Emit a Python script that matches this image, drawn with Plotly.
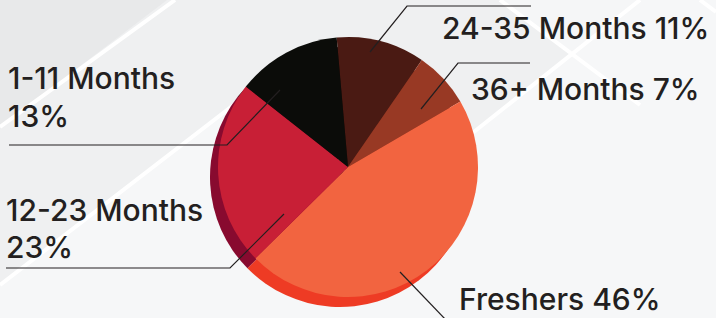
import plotly.graph_objects as go

W, H = 716, 318

# ---- data ----
categories = ["24-35 Months", "36+ Months", "Freshers", "12-23 Months", "1-11 Months"]
values = [11, 7, 46, 23, 13]
label_lines = [
    ["24-35 Months 11%"],
    ["36+ Months 7%"],
    ["Freshers 46%"],
    ["12-23 Months", "23%"],
    ["1-11 Months", "13%"],
]
top_colors = ["#4A1A13", "#983924", "#F26440", "#C81F36", "#0B0C09"]
rim_colors = ["#2E0F0A", "#6E2516", "#EE3B24", "#880A2F", "#3A0A18"]


def px(x, y):
    """pixel (from top-left) -> paper coords"""
    return x / W, 1 - y / H


fig = go.Figure()

# shadow / rim pie (offset down-left)
cx_s, cy_s, r = 340, 177, 130
fig.add_trace(go.Pie(
    labels=categories, values=values, sort=False, direction="clockwise",
    rotation=-5, textinfo="none", hoverinfo="skip", showlegend=False,
    marker=dict(colors=rim_colors, line=dict(width=0)),
    domain=dict(x=[(cx_s - r) / W, (cx_s + r) / W], y=[1 - (cy_s + r) / H, 1 - (cy_s - r) / H]),
))

# main pie
cx, cy = 348, 167
fig.add_trace(go.Pie(
    labels=categories, values=values, sort=False, direction="clockwise",
    rotation=-5, textinfo="none", hoverinfo="label+percent", showlegend=False,
    marker=dict(colors=top_colors, line=dict(width=0)),
    domain=dict(x=[(cx - r) / W, (cx + r) / W], y=[1 - (cy + r) / H, 1 - (cy - r) / H]),
))

shapes = []
# background decorative diagonal bands
bg_polys = [
    ([(0, 0), (167, 0), (0, 127)], "#E8E9EA"),
    ([(500, 0), (640, 0), (570, 53)], "#F5F6F7"),
    ([(0, 285), (240, 100), (350, 100), (470, 135), (640, 0), (716, 0), (716, 318), (0, 318)], "#F6F7F8"),
]
for pts, col in bg_polys:
    path = "M " + " L ".join(f"{px(x, y)[0]},{px(x, y)[1]}" for x, y in pts) + " Z"
    shapes.append(dict(type="path", path=path, xref="paper", yref="paper",
                       fillcolor=col, line=dict(width=0), layer="below"))

white_lines = [
    ((0, 127), (175, 0)),
    ((0, 285), (240, 100)),
    ((500, 0), (640, 105)),
    ((640, 0), (470, 135)),
    ((700, 0), (716, 12)),
]
for (x0, y0), (x1, y1) in white_lines:
    a, b = px(x0, y0), px(x1, y1)
    shapes.append(dict(type="line", xref="paper", yref="paper", x0=a[0], y0=a[1], x1=b[0], y1=b[1],
                       line=dict(color="white", width=4), layer="below"))

# leader lines
leaders = [
    [(531, 6), (407, 6), (370, 52)],
    [(530, 63), (458, 63), (421, 109)],
    [(400, 272), (446, 320)],
    [(6, 268), (230, 268), (284, 214)],
    [(9, 145), (227, 145), (280, 90)],
]
for pts in leaders:
    path = "M " + " L ".join(f"{px(x, y)[0]},{px(x, y)[1]}" for x, y in pts)
    shapes.append(dict(type="path", path=path, xref="paper", yref="paper",
                       line=dict(color="#231F20", width=1.2)))

# label positions (left x, cap-middle y per line)
label_pos = [
    [(440, 28)],
    [(469, 89)],
    [(457, 299)],
    [(4, 210), (4, 247)],
    [(6, 78), (6, 116)],
]
annotations = []
for lines, poss in zip(label_lines, label_pos):
    for t, (x, y) in zip(lines, poss):
        a = px(x, y)
        annotations.append(dict(text=t, x=a[0], y=a[1], xref="paper", yref="paper",
                                xanchor="left", yanchor="middle", showarrow=False,
                                font=dict(family="Inter", size=30, color="#231F20", weight=500)))

fig.update_layout(
    width=W, height=H, margin=dict(l=0, r=0, t=0, b=0),
    paper_bgcolor="#EFF0F1", plot_bgcolor="#EFF0F1",
    shapes=shapes, annotations=annotations,
)

fig.write_html("out.html", config={"displayModeBar": False},
               post_script="document.body.style.margin='0px';")
